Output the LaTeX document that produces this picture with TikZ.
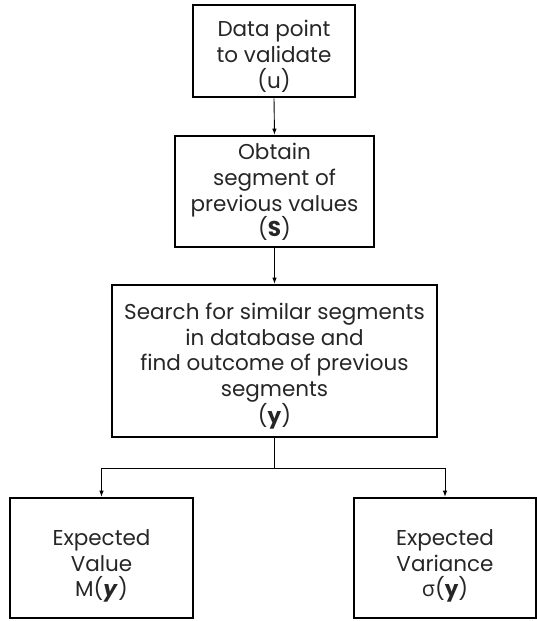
\documentclass[tikz,border=0pt]{standalone}
\usepackage{fontspec}
\setmainfont{Poppins}
\newfontfamily\grk{Open Sans}
\usetikzlibrary{arrows.meta,calc}
\tikzset{
  box/.style={draw=black, line width=2.6pt, inner sep=0pt},
  txt/.style={align=center, inner sep=0pt, text=black!85, font=\fontsize{21.5}{25.7}\selectfont},
  conn/.style={draw=black, line width=0.9pt},
  arr/.style={conn, -{Latex[length=6pt,width=4.5pt]}}
}
\begin{document}
\begin{tikzpicture}[x=1pt,y=-1pt]
\useasboundingbox (0,0) rectangle (537,621);
\node[box, minimum width=162pt, minimum height=92pt] (b1) at (274,51) {};
\node[box, minimum width=199pt, minimum height=111pt] (b2) at (274.5,191.5) {};
\node[box, minimum width=325pt, minimum height=152pt] (b3) at (274.5,361) {};
\node[box, minimum width=183pt, minimum height=120pt] (ev) at (101.5,558) {};
\node[box, minimum width=182pt, minimum height=120pt] (vr) at (445,558) {};
\node[txt] (b1t) at ($(b1.center)+(0,5.5)$) {Data point\\to validate\\(u)};
\node[txt] (b2t) at ($(b2.center)+(0,0.5)$) {Obtain\\segment of\\previous values\\(\textbf{S})};
\node[txt] (b3t) at ($(b3.center)+(0,5)$) {Search for similar segments\\in database and\\find outcome of previous\\segments\\(\textbf{y})};
\node[txt] (evt) at ($(ev.center)+(0,8)$) {Expected\\Value\\M(\textbf{\textit{y}})};
\node[txt] (vrt) at ($(vr.center)+(0,8)$) {Expected\\Variance\\{\grk σ}(\textbf{y})};
\draw[arr] (b1.south) -- (b2.north);
\draw[arr] (b2.south) -- (b3.north);
\draw[conn] (b3.south) -- ++(0,30) coordinate (j);
\draw[arr] (j) -| (ev.north);
\draw[arr] (j) -| (vr.north);
\end{tikzpicture}
\end{document}
